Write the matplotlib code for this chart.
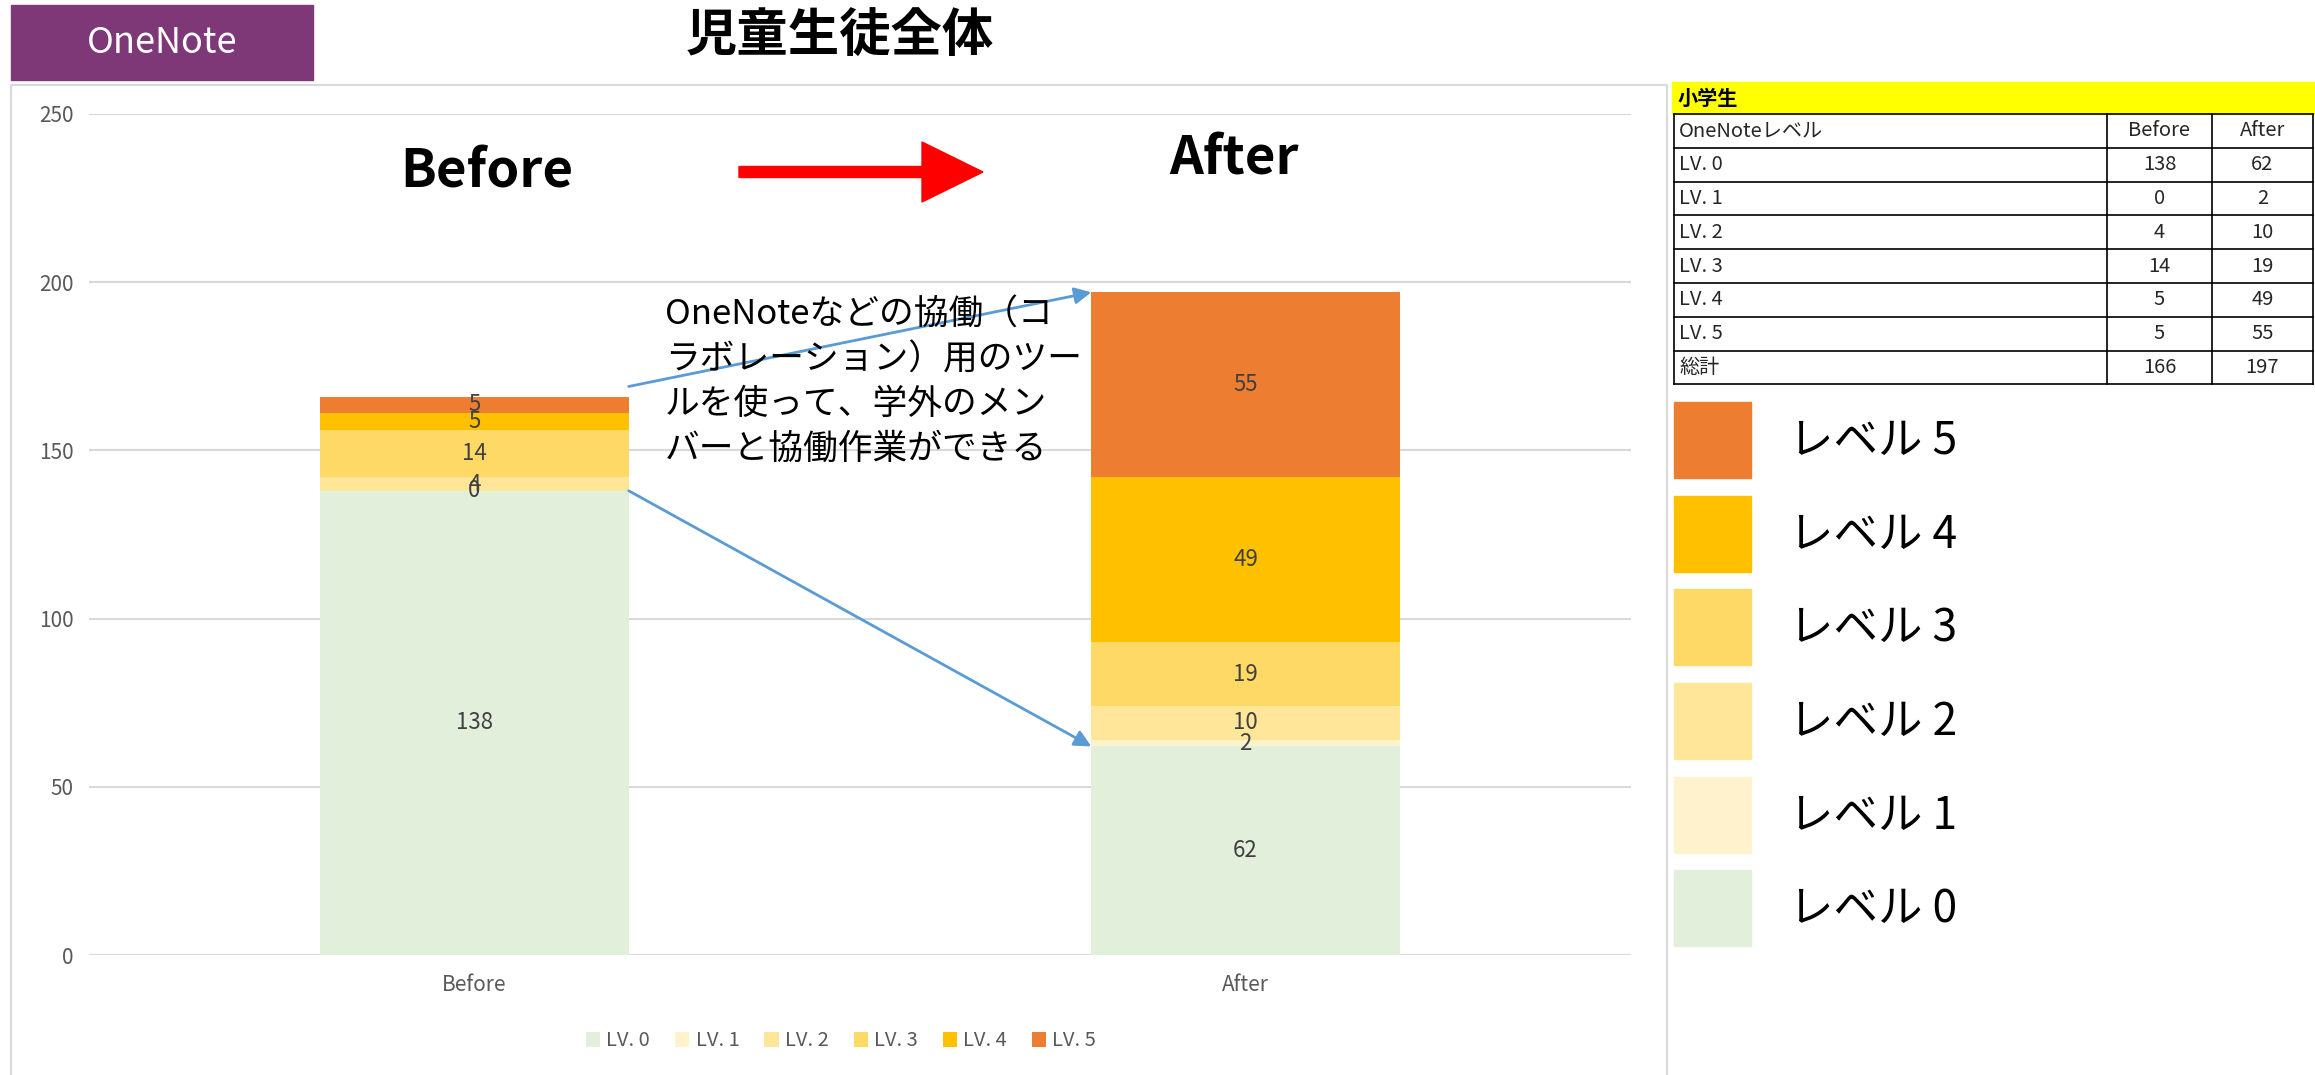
import numpy as np
import matplotlib
matplotlib.use('Agg')
import matplotlib.pyplot as plt
from matplotlib.patches import Rectangle, FancyArrow, Patch
from matplotlib.lines import Line2D

plt.rcParams['font.family'] = ['Noto Sans CJK JP', 'DejaVu Sans']

# data
periods = ['Before', 'After']
levels = ['LV. 0', 'LV. 1', 'LV. 2', 'LV. 3', 'LV. 4', 'LV. 5']
level_names = ['レベル 0', 'レベル 1', 'レベル 2', 'レベル 3', 'レベル 4', 'レベル 5']
before = [138, 0, 4, 14, 5, 5]
after = [62, 2, 10, 19, 49, 55]
colors = ['#E2EFDA', '#FFF2CC', '#FFE699', '#FFD966', '#FFC000', '#ED7D31']
yticks = [0, 50, 100, 150, 200, 250]

W, H = 2315, 1075
fig = plt.figure(figsize=(W / 100, H / 100), dpi=100)


def fx(px):
    return px / W


def fy(py):
    return 1 - py / H


# chart area border
fig.add_artist(Rectangle((fx(11), fy(1080)), fx(1667) - fx(11), fy(85) - fy(1080),
                         transform=fig.transFigure, fill=False, ec='#D9D9D9', lw=1.5))

ax = fig.add_axes([fx(89), fy(955), fx(1631) - fx(89), fy(114) - fy(955)])
x = np.arange(len(periods))
bottom = np.zeros(len(periods))
bars = []
for i, lv in enumerate(levels):
    vals = np.array([before[i], after[i]])
    bc = ax.bar(x, vals, 0.4, bottom=bottom, color=colors[i], label=lv, zorder=2)
    ax.bar_label(bc, label_type='center', fontsize=16, color='#404040')
    bars.append(bc)
    bottom += vals

ax.set_xlim(-0.5, 1.5)
ax.set_ylim(0, 250)
ax.set_yticks(yticks)
ax.set_xticks(x, periods)
ax.yaxis.grid(True, color='#D9D9D9', lw=1.5)
ax.set_axisbelow(True)
for s in ax.spines.values():
    s.set_visible(False)
ax.tick_params(length=0, colors='#595959', labelsize=15)
ax.tick_params(axis='y', pad=11)
ax.tick_params(axis='x', pad=14)

# blue arrows
tot_b = sum(before)
tot_a = sum(after)
arrow_kw = dict(arrowstyle='-|>', color='#5B9BD5', lw=2, mutation_scale=25,
                shrinkA=0, shrinkB=0)
ax.annotate('', xy=(0.8, tot_a), xytext=(0.2, tot_b + 3), arrowprops=arrow_kw)
ax.annotate('', xy=(0.8, after[0]), xytext=(0.2, before[0]), arrowprops=arrow_kw)

note = 'OneNoteなどの協働（コ\nラボレーション）用のツー\nルを使って、学外のメン\nバーと協働作業ができる'
fig.text(fx(665), fy(298), note, fontsize=25, va='top', ha='left', linespacing=1.36)

# big labels + red arrow
fig.text(fx(487), fy(172), 'Before', fontsize=38, fontweight='bold', ha='center', va='center')
fig.text(fx(1234), fy(159), 'After', fontsize=38, fontweight='bold', ha='center', va='center')
fig.add_artist(FancyArrow(7.39, (H - 172) / 100, 2.44, 0, width=0.11, head_width=0.6,
                          head_length=0.61, length_includes_head=True,
                          transform=fig.dpi_scale_trans, color='#FF0000'))

# title and OneNote tag
fig.text(fx(840), fy(36), '児童生徒全体', fontsize=37, fontweight='bold', ha='center', va='center')
fig.add_artist(Rectangle((fx(11), fy(80)), fx(313) - fx(11), fy(5) - fy(80),
                         transform=fig.transFigure, color='#7E3878'))
fig.text(fx(162), fy(43), 'OneNote', fontsize=26, color='white', ha='center', va='center')

# bottom legend
fig.legend(handles=bars, labels=levels, loc='center', bbox_to_anchor=(fx(841), fy(1041)),
           ncol=6, frameon=False, fontsize=14.5, handlelength=0.7, handleheight=0.7,
           handletextpad=0.3, columnspacing=1.25, labelcolor='#595959')

# right legend
handles = [Patch(color=c) for c in reversed(colors)]
fig.legend(handles=handles, labels=list(reversed(level_names)), loc='upper left',
           bbox_to_anchor=(fx(1674), fy(402)), frameon=False, fontsize=32,
           handlelength=1.74, handleheight=2.25, handletextpad=0.85, labelspacing=0.40,
           borderpad=0, borderaxespad=0)

# table
tbl_left, tbl_right = 1674, 2313
col1, col2 = 2107, 2212
row_top, row_h = 114, 33.8
fig.add_artist(Rectangle((fx(1672), fy(114)), fx(2315) - fx(1672), fy(82) - fy(114),
                         transform=fig.transFigure, color='#FFFF00'))
fig.text(fx(1678), fy(98), '小学生', fontsize=14.5, fontweight='bold', va='center')

rows = [('OneNoteレベル', 'Before', 'After')]
rows += [(levels[i], before[i], after[i]) for i in range(len(levels))]
rows += [('総計', tot_b, tot_a)]
n = len(rows)
for k in range(n + 1):
    yy = fy(row_top + k * row_h)
    fig.add_artist(Line2D([fx(tbl_left), fx(tbl_right)], [yy, yy], color='black', lw=1.2))
for xx in [tbl_left, col1, col2, tbl_right]:
    fig.add_artist(Line2D([fx(xx), fx(xx)], [fy(row_top), fy(row_top + n * row_h)],
                          color='black', lw=1.2))
for k, (a, b, c) in enumerate(rows):
    yc = fy(row_top + (k + 0.5) * row_h)
    fig.text(fx(tbl_left + 5), yc, a, fontsize=14.5, va='center', color='#262626')
    fig.text(fx((col1 + col2) / 2), yc, str(b), fontsize=14.5, va='center', ha='center', color='#262626')
    fig.text(fx((col2 + tbl_right) / 2), yc, str(c), fontsize=14.5, va='center', ha='center', color='#262626')

fig.savefig('out.png', dpi=100)
